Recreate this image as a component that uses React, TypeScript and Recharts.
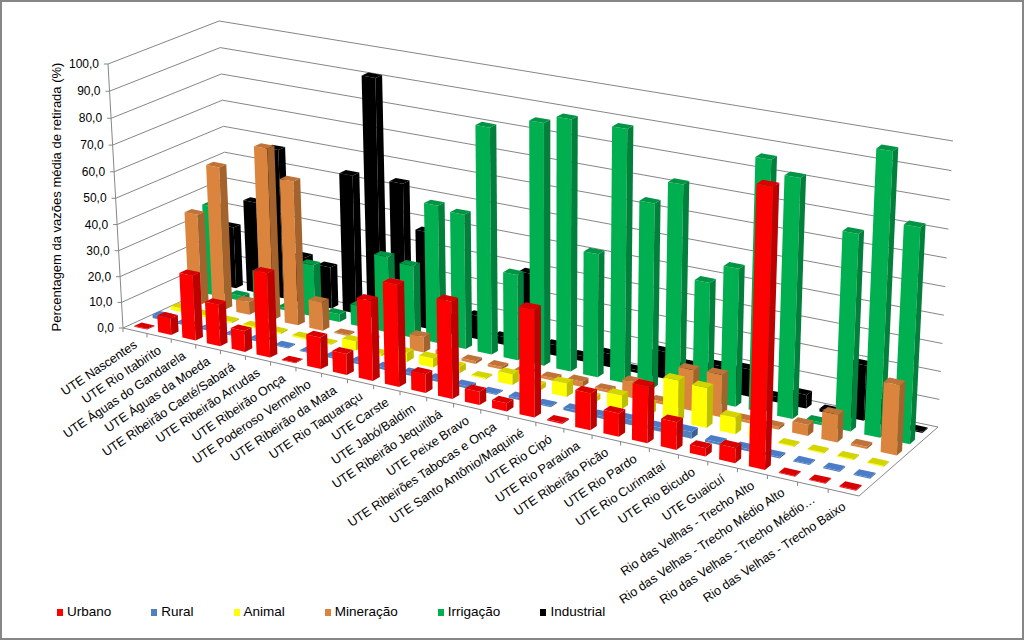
import { BarChart, Bar, XAxis, YAxis, Customized } from "recharts"

const categories = [
  "UTE Nascentes", "UTE Rio Itabirito", "UTE Águas do Gandarela", "UTE Águas da Moeda",
  "UTE Ribeirão Caeté/Sabará", "UTE Ribeirão Arrudas", "UTE Ribeirão Onça", "UTE Poderoso Vermelho",
  "UTE Ribeirão da Mata", "UTE Rio Taquaraçu", "UTE Carste", "UTE Jabó/Baldim",
  "UTE Ribeirão Jequitibá", "UTE Peixe Bravo", "UTE Ribeirões Tabocas e Onça", "UTE Santo Antônio/Maquiné",
  "UTE Rio Cipó", "UTE Rio Paraúna", "UTE Ribeirão Picão", "UTE Rio Pardo",
  "UTE Rio Curimataí", "UTE Rio Bicudo", "UTE Guaicuí", "Rio das Velhas - Trecho Alto",
  "Rio das Velhas - Trecho Médio Alto", "Rio das Velhas - Trecho Médio…", "Rio das Velhas - Trecho Baixo",
]

const urbano = [0.3, 6.5, 25, 16, 8, 32, 0.3, 12, 8, 30, 38, 7, 36, 5, 3, 39.5, 0.5, 13.5, 8.5, 20.5, 10, 3, 5.5, 98, 0.3, 0.3, 0.3]
const rural = [1.5, 0.6, 0.8, 0.5, 0.8, 0.4, 0.3, 0.6, 0.9, 1, 1, 1, 0.9, 0.4, 0.8, 0.4, 1, 1, 2, 1.5, 2.5, 0.8, 0.8, 0.5, 0.4, 0.4, 0.4]
const animal = [1.5, 0.8, 0.6, 0.6, 0.6, 0.6, 0.4, 3.5, 0.8, 3.5, 3.5, 2.5, 0.5, 4, 2, 5, 2, 5, 4, 15, 14.5, 6, 4, 0.4, 0.4, 0.4, 0.4]
const mineracao = [35, 55, 5, 65.5, 55, 11, 0.5, 1, 24, 6, 2, 1, 1, 1, 1, 2, 1, 6, 1, 15, 15.5, 1, 1, 4, 10, 0.8, 25]
const irrigacao = [35, 2, 13, 1, 20, 3, 8, 29, 27.5, 52, 50.5, 84, 32, 89, 92, 45.5, 92, 67.5, 76, 43, 50, 90, 85.5, 1, 70, 100, 76]
const industrial = [24, 35.5, 57.5, 18, 16, 53, 91, 53.5, 37, 6, 9, 3, 29, 4, 2, 5, 1, 10, 7, 9, 10, 2, 5, 1, 20, 8, 0.5]

const yTicks = [0, 10, 20, 30, 40, 50, 60, 70, 80, 90, 100]

const seriesNames = ["Urbano", "Rural", "Animal", "Mineração", "Irrigação", "Industrial"]
const seriesValues = [urbano, rural, animal, mineracao, irrigacao, industrial]
const frontColors = ["#FF0000", "#4F81BD", "#FFFF00", "#DB843D", "#00B050", "#000000"]
const sideColors = ["#BE0000", "#3A6190", "#BEBE00", "#A4622D", "#00803A", "#000000"]
const topColors = ["#D80000", "#4A7CC8", "#D4D400", "#BF7338", "#009445", "#000000"]

const rows = categories.map((name, i) => {
  const row: Record<string, string | number> = { name }
  seriesNames.forEach((s, k) => { row[s] = seriesValues[k][i] })
  return row
})

const WIDTH = 1024
const HEIGHT = 640
const AXIS_SIZE = 40
const PLOT_H = HEIGHT - AXIS_SIZE
const GRID = "#868686"
const FONT = "'Liberation Sans', Arial, sans-serif"

// floor corners of the 3d box: front left, front right, back right, back left
const FL = [123, 328]
const FR = [859, 496]
const BR = [938, 427]
const BL = [230, 279]
// verticals converge on this point, a bit of perspective like excel does
const VP = [550, 7840]
const RISE = -0.03395
const RISE_U = -0.115
const RISE_V = 0.029
// the reference spreads the categories more evenly than the corners alone give
const U_WARP = 0.051

const sx = FL[0] - FR[0] + BR[0] - BL[0]
const sy = FL[1] - FR[1] + BR[1] - BL[1]
const dx1 = FR[0] - BR[0]
const dx2 = BL[0] - BR[0]
const dy1 = FR[1] - BR[1]
const dy2 = BL[1] - BR[1]
const den = dx1 * dy2 - dx2 * dy1
const g = (sx * dy2 - dx2 * sy) / den
const h = (dx1 * sy - sx * dy1) / den

// u along the categories, v into the depth, z up the value axis (all 0..1)
function project(uIn: number, v: number, z: number) {
  const u = uIn + U_WARP * uIn * (1 - uIn)
  const w = g * u + h * v + 1
  const px = ((FR[0] - FL[0] + g * FR[0]) * u + (BL[0] - FL[0] + h * BL[0]) * v + FL[0]) / w
  const py = ((FR[1] - FL[1] + g * FR[1]) * u + (BL[1] - FL[1] + h * BL[1]) * v + FL[1]) / w
  const wz = 1 + RISE_U * u + RISE_V * v
  const t = (z * RISE) / (wz + z * RISE)
  return [px + t * (VP[0] - px), py + t * (VP[1] - py)]
}

const pts = (list: number[][]) => list.map((p) => p[0].toFixed(1) + "," + p[1].toFixed(1)).join(" ")

function Bar3D(props: any) {
  const { index, height, depth } = props
  const z = Math.max(height || 0, 0) / PLOT_H
  const n = categories.length
  const u0 = (index + 0.23) / n
  const u1 = (index + 0.77) / n
  const v0 = (depth + 0.3) / seriesNames.length
  const v1 = (depth + 0.7) / seriesNames.length
  const front = [project(u0, v0, 0), project(u1, v0, 0), project(u1, v0, z), project(u0, v0, z)]
  const side = [project(u1, v0, 0), project(u1, v1, 0), project(u1, v1, z), project(u1, v0, z)]
  const top = [project(u0, v0, z), project(u1, v0, z), project(u1, v1, z), project(u0, v1, z)]
  return (
    <g>
      <polygon points={pts(front)} fill={frontColors[depth]} />
      <polygon points={pts(side)} fill={sideColors[depth]} />
      <polygon points={pts(top)} fill={topColors[depth]} />
    </g>
  )
}

function Walls() {
  const n = categories.length
  return (
    <g fill="none" stroke={GRID} strokeWidth={1}>
      {yTicks.map((t) => (
        <polyline key={t} points={pts([project(0, 0, t / 100), project(0, 1, t / 100), project(1, 1, t / 100)])} />
      ))}
      <polyline points={pts([project(0, 0, 0), project(1, 0, 0), project(1, 1, 0)])} />
      <polyline points={pts([project(0, 0, 0), project(0, 0, 1)])} />
      {yTicks.map((t) => {
        const p = project(0, 0, t / 100)
        return <line key={t} x1={p[0] - 4} y1={p[1]} x2={p[0]} y2={p[1]} />
      })}
      {categories.map((c, i) => {
        const p = project(i / n, 0, 0)
        return <line key={c} x1={p[0]} y1={p[1]} x2={p[0]} y2={p[1] + 4} />
      })}
      <text
        transform="translate(61,197) rotate(-90)"
        textAnchor="middle"
        fontFamily={FONT}
        fontSize={13}
        fill="#000"
        stroke="none"
      >
        Percentagem da vazões média de retirada (%)
      </text>
    </g>
  )
}

function CategoryTick(props: any) {
  const i = categories.indexOf(props.payload.value)
  const p = project((i + 0.5) / categories.length, 0, 0)
  return (
    <text
      transform={`translate(${p[0] + 3},${p[1] + 16}) rotate(-34)`}
      textAnchor="end"
      fontFamily={FONT}
      fontSize={12.6}
      fill="#000"
    >
      {props.payload.value}
    </text>
  )
}

function ValueTick(props: any) {
  const p = project(0, 0, props.payload.value / 100)
  return (
    <text x={p[0] - 9} y={p[1] + 4} textAnchor="end" fontFamily={FONT} fontSize={12} fill="#000">
      {props.payload.value.toFixed(1).replace(".", ",")}
    </text>
  )
}

export default function App() {
  return (
    <div
      style={{
        position: "absolute", left: 0, top: 0, width: WIDTH, height: HEIGHT, background: "#fff",
        outline: "2px solid #868686", outlineOffset: -2,
      }}
    >
      <BarChart width={WIDTH} height={HEIGHT} data={rows} margin={{ top: 0, right: 0, bottom: 0, left: 0 }}>
        <XAxis dataKey="name" interval={0} height={AXIS_SIZE} axisLine={false} tickLine={false} tick={CategoryTick} />
        <YAxis domain={[0, 100]} ticks={yTicks} width={AXIS_SIZE} axisLine={false} tickLine={false} tick={ValueTick} />
        <Customized component={Walls} />
        {/* back series first so the front ones paint over them */}
        {[5, 4, 3, 2, 1, 0].map((k) => (
          <Bar
            key={k}
            dataKey={seriesNames[k]}
            isAnimationActive={false}
            shape={(p: any) => <Bar3D {...p} depth={k} />}
          />
        ))}
      </BarChart>
      <div
        style={{
          position: "absolute", left: 57, top: 604, display: "flex", gap: 40,
          fontFamily: FONT, fontSize: 13.5, lineHeight: "16px", color: "#000",
        }}
      >
        {seriesNames.map((s, k) => (
          <div key={s} style={{ display: "flex", alignItems: "center", gap: 4 }}>
            <span style={{ width: 6, height: 7, background: frontColors[k], display: "inline-block" }} />
            {s}
          </div>
        ))}
      </div>
    </div>
  )
}
